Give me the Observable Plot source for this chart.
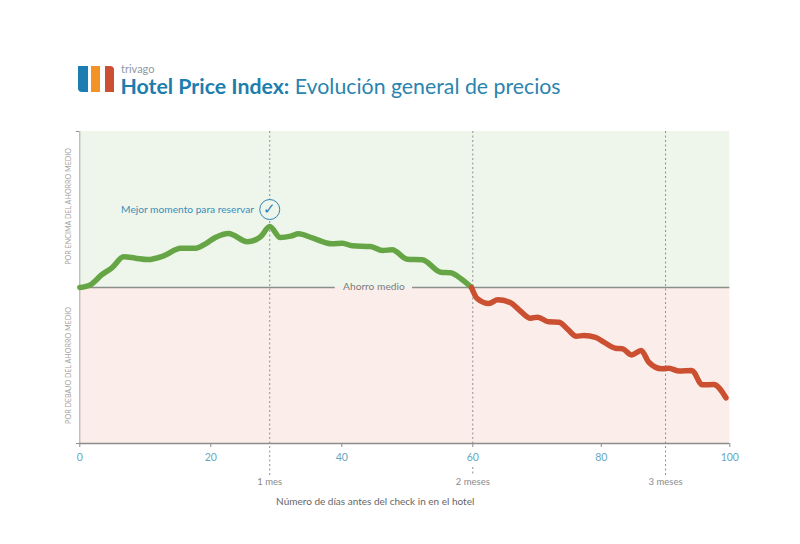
<!DOCTYPE html>
<html lang="es">
<head>
<meta charset="utf-8">
<script src="https://cdn.jsdelivr.net/npm/d3@7"></script>
<script src="https://cdn.jsdelivr.net/npm/@observablehq/plot@0.6"></script>
<style>
  html, body { margin: 0; padding: 0; background: #fff; width: 800px; height: 544px; overflow: hidden; font-family: Lato, sans-serif; }
  #header { position: relative; width: 800px; height: 120px; }
  #header div { position: absolute; }
  .bar { top: 66px; height: 26px; }
  #brand { left: 121px; top: 63px; font-size: 11px; line-height: 12px; color: #8f9aa3; }
  #title { left: 120.5px; top: 75px; font-size: 21.3px; line-height: 22px; color: #2b84ad; white-space: nowrap; }
  #title b { font-weight: 700; color: #1c7eae; }
  #chart svg { display: block; }
</style>
</head>
<body>
<div id="header">
  <div class="bar" style="left:78px;width:10px;background:#1b7db0;border-bottom-left-radius:4px"></div>
  <div class="bar" style="left:91px;width:9px;background:#f39325"></div>
  <div class="bar" style="left:104.500px;width:9px;background:#cb4f32;border-top-right-radius:4px"></div>
  <div id="brand">trivago</div>
  <div id="title"><b>Hotel Price Index:</b> Evolución general de precios</div>
</div>
<div id="chart"></div>
<script>
const aboveDays = [0, 1.6, 3.4, 4.9, 6.7, 8.5, 10.4, 12.8, 15.4, 17.7, 19.2, 20.7, 22.7, 25.6, 27.6, 29, 30.6, 32.2, 33.4, 35.5, 38.5, 40.1, 41.6, 44.4, 46.2, 47.7, 50, 52.3, 55.1, 56.6, 58.2, 59.8];
const aboveIndex = [0, 1.7, 8.3, 12.6, 19.7, 18.8, 17.9, 20.3, 25.2, 25.2, 28, 32, 34.6, 29.3, 32.5, 39.1, 32, 32.9, 34.4, 31.8, 28, 28.4, 26.7, 26.3, 23.7, 24.2, 18.1, 17.8, 9.8, 9.4, 5.6, 0];
const belowDays = [59.8, 60.7, 62.5, 63.9, 65.9, 67.2, 69, 70.1, 71.8, 73.4, 74.7, 76.1, 77.3, 79.1, 80.4, 82.2, 83.3, 84.7, 86.2, 87.4, 89.4, 90.5, 92.1, 94.1, 95.7, 97.5, 99.4];
const belowIndex = [0, -7.2, -10.3, -7.9, -9.8, -14.3, -19.7, -19, -22, -22.2, -26.5, -31.2, -30.8, -31.9, -35, -38.9, -39.3, -43.2, -40.4, -47.9, -52.1, -51.7, -53.6, -53.2, -62.4, -62.2, -70.7];
const dayTicks = [0, 20, 40, 60, 80, 100];
const monthDays = [29, 60, 90];
const monthLabels = ["1 mes", "2 meses", "3 meses"];
const bestDay = 29;
const avgSegments = [[0, 39], [50.8, 100]];

const above = aboveDays.map((d, i) => ({d, v: aboveIndex[i]}));
const below = belowDays.map((d, i) => ({d, v: belowIndex[i]}));
const months = monthDays.map((d, i) => ({d, label: monthLabels[i]}));
const FONT = "Lato, sans-serif";
const dash = {stroke: "#8e8e8e", strokeWidth: 1, strokeDasharray: "2 2.5"};
// The reference's day axis is slightly uneven: day 60 sits a little right of a straight 0-100 line.
const warp = d3.scaleLinear().domain([0, 60, 100]).range([0, 60.46, 100]);

const plot = Plot.plot({
  width: 800,
  height: 424,
  marginTop: 11,
  marginBottom: 101,
  marginLeft: 79,
  marginRight: 71,
  style: {fontFamily: FONT, background: "transparent", overflow: "visible"},
  x: {domain: [0, 100], range: [79.3, 729.3], transform: warp, axis: null},
  y: {domain: [-100, 100], range: [323, 11], axis: null},
  marks: [
    Plot.rect([{y1: 0, y2: 100, f: "#eef6ec"}, {y1: -100, y2: 0, f: "#fbeeea"}], {x1: 0, x2: 100, y1: "y1", y2: "y2", fill: "f"}),
    Plot.ruleX([0], {y1: 100, y2: -100, stroke: "#a9a9a9", strokeWidth: 1}),
    Plot.axisY({ticks: [-100, 100], tickSize: 3, tickFormat: () => "", label: null, stroke: "#8c8c8c"}),
    Plot.ruleY([-100], {x1: 0, x2: 100, stroke: "#8c8c8c", strokeWidth: 1.5}),
    Plot.ruleX(dayTicks, {x: d => d, y1: -100, y2: -100, insetBottom: -4, stroke: "#8c8c8c", strokeWidth: 1}),
    Plot.text(dayTicks, {x: d => d, y: -100, dy: 14.5, text: d => String(d), fontSize: 10.5, fill: "#69a7c0"}),
    Plot.ruleX(months.filter(d => d.d !== 60), {x: "d", y1: 100, y2: -100, insetBottom: -32, ...dash}),
    Plot.ruleX(months.filter(d => d.d === 60), {x: "d", y1: 100, y2: -100, ...dash}),
    Plot.ruleX(months.filter(d => d.d === 60), {x: "d", y1: -100, y2: -100, insetTop: 24, insetBottom: -32, ...dash}),
    ...avgSegments.map(([x1, x2]) => Plot.ruleY([0], {x1, x2, stroke: "#8a8f8a", strokeWidth: 1.5})),
    Plot.line(above, {x: "d", y: "v", stroke: "#66a545", strokeWidth: 5.5, curve: "monotone-x", strokeLinejoin: "round"}),
    Plot.line(below, {x: "d", y: "v", stroke: "#cb4f31", strokeWidth: 5.5, curve: "monotone-x", strokeLinejoin: "round"}),
    Plot.dot([bestDay], {x: d => d, y: 50, r: 10, fill: "#eef6ec", stroke: "#2f83b5", strokeWidth: 1}),
    Plot.text([bestDay], {x: d => d, y: 50, text: () => "✓", fontFamily: "DejaVu Sans", fontWeight: 200, fontSize: 15, fill: "#2f83b5"}),
    Plot.text(["Mejor momento para reservar"], {x: 26.6, y: 50, text: d => d, textAnchor: "end", fontSize: 10.2, fill: "#3a8db8"}),
    Plot.text(["Ahorro medio"], {x: 44.9, y: 0, dy: -1, text: d => d, fontSize: 10.2, fill: "#7b7b7b"}),
    Plot.text(["POR ENCIMA DEL AHORRO MEDIO"], {x: 0, y: 52, dx: -11, text: d => d, rotate: -90, fontSize: 7.15, fill: "#a5a5a5"}),
    Plot.text(["POR DEBAJO DEL AHORRO MEDIO"], {x: 0, y: -50, dx: -11, text: d => d, rotate: -90, fontSize: 7.15, fill: "#a5a5a5"}),
    Plot.text(months, {x: "d", y: -100, dy: 38.5, text: "label", fontSize: 9.5, fill: "#8b8b8b"}),
    Plot.text(["Número de días antes del check in en el hotel"], {x: 45.1, y: -100, dy: 58, text: d => d, fontSize: 10, fill: "#666"})
  ]
});
document.getElementById("chart").appendChild(plot);
</script>
</body>
</html>
